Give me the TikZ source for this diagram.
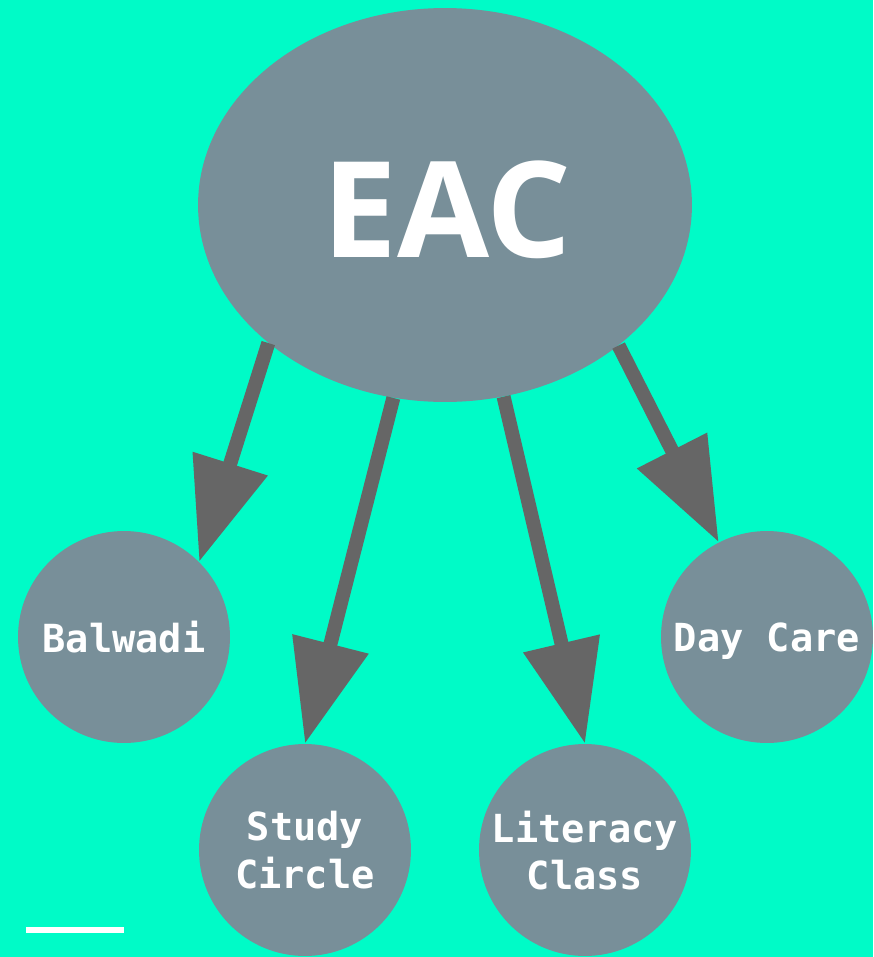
\documentclass[tikz,border=0pt]{standalone}
\usepackage{fontspec}
\setmainfont{Open Sans}
\setmonofont{DejaVu Sans Mono}
\usetikzlibrary{arrows.meta,shapes.geometric}
\definecolor{aquabg}{RGB}{0,251,199}
\definecolor{slate}{RGB}{120,143,153}
\definecolor{arrowgray}{RGB}{102,102,102}
\begin{document}
\begin{tikzpicture}[x=0.02cm,y=-0.02cm]
\tikzset{
  bubble/.style={circle,fill=slate,minimum size=4.24cm,inner sep=0pt,text=white,
    font=\ttfamily\bfseries\fontsize{22}{27}\selectfont,align=center,text depth=0pt},
  link/.style={draw=arrowgray,line width=0.28cm,
    -{Triangle[length=2.06cm,width=1.5cm]}}
}
\fill[aquabg] (0,0) rectangle (873,957);
\useasboundingbox (0,0) rectangle (873,957);
% hub
\node[ellipse,fill=slate,minimum width=9.88cm,minimum height=7.88cm,inner sep=0pt,
  text=white,font=\bfseries\fontsize{76}{80}\selectfont] (eac) at (445,205) {};
\node[text=white,font=\bfseries\fontsize{76}{80}\selectfont,inner sep=0pt] (eactext) at (447,210) {EAC};
% programmes
\node[bubble] (balwadi) at (124,637) {Balwadi};
\node[bubble] (study) at (305,850) {Study\\Circle};
\node[bubble] (literacy) at (585,850) {Literacy\\Class};
\node[bubble] (daycare) at (767,637) {Day Care};
\draw[link] (eac.218) -- (balwadi.45);
\draw[link] (eac.255) -- (study.north);
\draw[link] (eac.287) -- (literacy.north);
\draw[link] (eac.321) -- (daycare.117);
\draw[white,line width=0.12cm] (26,930) coordinate (rulea) -- (124,930) coordinate (ruleb);
\end{tikzpicture}
\end{document}
